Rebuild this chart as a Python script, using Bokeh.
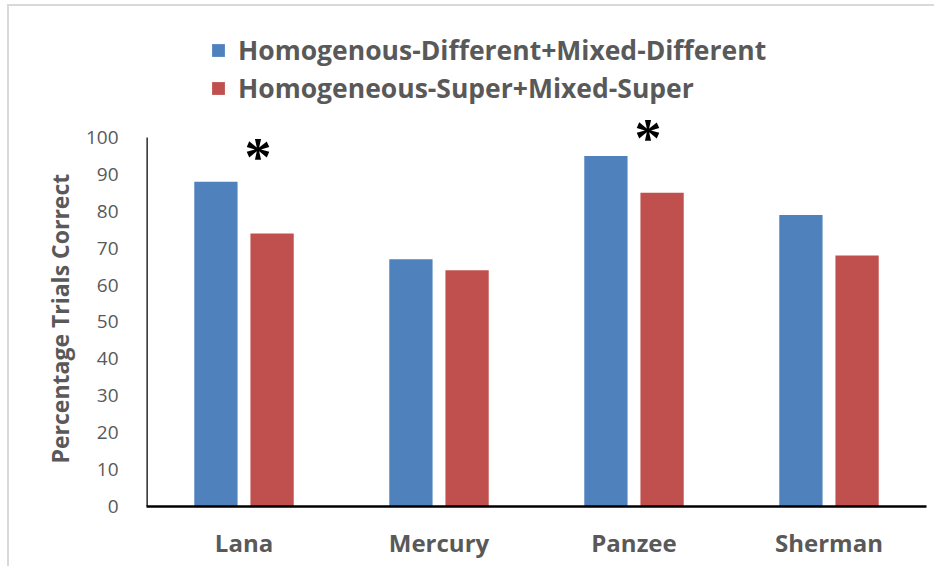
from bokeh.plotting import figure
from bokeh.models import (ColumnDataSource, FactorRange, Range1d, FixedTicker,
                          Legend, LegendItem, LabelSet, Title)
from bokeh.transform import dodge
from bokeh.embed import file_html
from bokeh.resources import INLINE

subjects = ["Lana", "Mercury", "Panzee", "Sherman"]
different = [88, 67, 95, 79]
superv = [74, 64, 85, 68]
series_names = ["Homogenous-Different+Mixed-Different",
                "Homogeneous-Super+Mixed-Super"]
y_ticks = [0, 10, 20, 30, 40, 50, 60, 70, 80, 90, 100]
y_max = 100
y_title = "Percentage Trials Correct"
star_subjects = ["Lana", "Panzee"]
star_y = [94.8, 99.8]

BLUE = "#4F81BD"
RED = "#C0504D"
GRAY = "#595959"
FONT = "Open Sans"

src = ColumnDataSource(dict(subject=subjects, different=different, superv=superv))

p = figure(width=927, height=562, output_backend="svg", toolbar_location=None,
           x_range=FactorRange(*subjects), y_range=Range1d(0, 135.5),
           min_border_left=137, min_border_right=10, min_border_top=0,
           min_border_bottom=62)
p.styles = {"margin-top": "4px", "margin-left": "7px",
            "border-top": "2px solid #d9d9d9", "border-left": "2px solid #d9d9d9"}

r1 = p.vbar(x=dodge("subject", -0.144, range=p.x_range), top="different", width=0.222,
            source=src, fill_color=BLUE, line_color=None)
r2 = p.vbar(x=dodge("subject", 0.144, range=p.x_range), top="superv", width=0.222,
            source=src, fill_color=RED, line_color=None)

# left axis line drawn from 0 to 100 only
axis_src = ColumnDataSource(dict(x=[subjects[0]], y0=[y_ticks[0]], y1=[y_max]))
p.segment(x0=dodge("x", -0.5, range=p.x_range), y0="y0",
          x1=dodge("x", -0.5, range=p.x_range), y1="y1",
          source=axis_src, line_color="black", line_width=2.5)

p.xgrid.visible = False
p.ygrid.visible = False
p.outline_line_color = None

p.yaxis.ticker = FixedTicker(ticks=y_ticks)
p.yaxis.axis_line_color = None
p.yaxis.major_label_text_font = FONT
p.yaxis.major_label_text_font_size = "19px"
p.yaxis.major_label_text_color = GRAY
p.yaxis.major_label_standoff = 28

for ax in (p.xaxis, p.yaxis):
    ax.major_tick_line_color = None
    ax.minor_tick_line_color = None
    ax.major_tick_in = 0
    ax.major_tick_out = 0

p.xaxis.axis_line_color = "black"
p.xaxis.axis_line_width = 2.5
p.xaxis.major_label_text_font = FONT
p.xaxis.major_label_text_font_style = "bold"
p.xaxis.major_label_text_font_size = "24px"
p.xaxis.major_label_text_color = GRAY
p.xaxis.major_label_standoff = 19

ytitle = Title(text=y_title, align="left", offset=43, standoff=14,
               text_font=FONT, text_font_style="bold", text_font_size="23px",
               text_color=GRAY)
p.add_layout(ytitle, "left")

legend = Legend(items=[LegendItem(label=series_names[0], renderers=[r1]),
                       LegendItem(label=series_names[1], renderers=[r2])],
                location=(64, 400), orientation="vertical",
                glyph_width=16, glyph_height=16, label_standoff=12,
                label_height=24, spacing=2, padding=0, margin=0,
                border_line_color=None, background_fill_alpha=0,
                label_text_font=FONT, label_text_font_style="bold",
                label_text_font_size="26.5px", label_text_color=GRAY)
p.add_layout(legend, "center")

star_src = ColumnDataSource(dict(subject=star_subjects, y=star_y,
                                 t=["*"] * len(star_subjects)))
stars = LabelSet(x="subject", y="y", text="t", source=star_src, x_offset=14,
                 text_align="center", text_baseline="middle",
                 text_font=FONT, text_font_style="bold", text_font_size="54px",
                 text_color="black")
p.add_layout(stars)

open("out.html", "w").write(file_html(p, INLINE))
